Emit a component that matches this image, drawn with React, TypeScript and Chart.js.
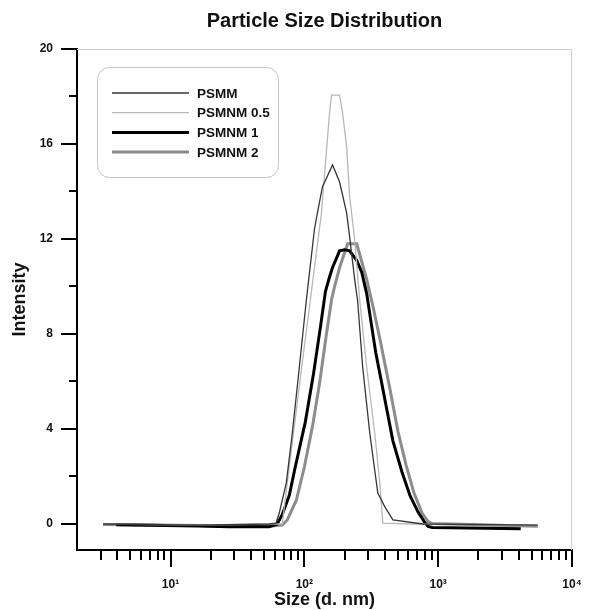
import React, { useEffect, useRef } from 'react';
import { Chart, registerables } from 'chart.js';

Chart.register(...registerables);

// ---------- data ----------
const chartTitle = 'Particle Size Distribution';
const xAxisTitle = 'Size (d. nm)';
const yAxisTitle = 'Intensity';
const seriesNames = ['PSMM', 'PSMNM 0.5', 'PSMNM 1', 'PSMNM 2'];

const xMajorTicks = [10, 100, 1000, 10000];
const xMajorLabels = ['10¹', '10²', '10³', '10⁴'];
const xMinorMultipliers = [2, 3, 4, 5, 6, 7, 8, 9];
const yMajorTicks = [0, 4, 8, 12, 16, 20];
const yMinorTicks = [2, 6, 10, 14, 18];

const psmmSize = [3.13, 16.2, 54.6, 61.5, 64.9, 73.3, 81.3, 91.7, 103.5, 118.9, 125.2, 136.6, 162.4, 183.4, 206.9, 217.9, 237.6, 250, 272.9, 308.1, 353.8, 399.6, 458.9, 771, 5546];
const psmmIntensity = [0, -0.05, 0, 0.04, 0.46, 1.73, 3.83, 6.6, 9.43, 12.4, 13.1, 14.2, 15.12, 14.4, 13.1, 12.1, 10.3, 9.4, 6.6, 3.83, 1.3, 0.72, 0.17, 0.0, -0.05];

const psmnm05Size = [3.13, 16.2, 54.6, 68.4, 74.5, 83, 95, 110.9, 134.2, 143.8, 154.2, 159.6, 183.4, 193.1, 206.9, 217.9, 237.6, 259.2, 292.3, 335.6, 366.6, 385.7, 648.7, 5546];
const psmnm05Intensity = [0, -0.05, 0, 0, 1.73, 3.83, 6.5, 9.43, 13.1, 15.2, 17.3, 18.06, 18.06, 17.3, 15.9, 13.8, 12.0, 9.43, 6.6, 3.83, 1.7, 0.04, 0, -0.05];

const psmnm1Size = [3.93, 16.2, 27.3, 54.6, 62.7, 68.4, 77.1, 85.5, 101.7, 116.9, 131.9, 143.8, 154.2, 162.4, 183.4, 200, 217.9, 246, 268.3, 292.3, 319, 342, 379.5, 413.8, 458.9, 535.6, 615.1, 707.5, 785.8, 841.6, 902.2, 4140];
const psmnm1Intensity = [-0.03, -0.08, -0.12, -0.12, 0, 0.4, 1.2, 2.4, 4.3, 6.3, 8.3, 9.8, 10.4, 10.8, 11.5, 11.55, 11.5, 11.1, 10.6, 9.7, 8.3, 7.2, 5.9, 4.8, 3.5, 2.2, 1.2, 0.5, 0.1, -0.1, -0.15, -0.2];

const psmnm2Size = [3.13, 16.2, 27.3, 54.6, 68.4, 74.5, 87.1, 100, 114.9, 129.7, 146.2, 159.6, 168.2, 183.4, 210.6, 246, 263.6, 292.3, 324.6, 366.6, 435.5, 500.4, 574.4, 659.8, 759.3, 841.6, 902.2, 5546];
const psmnm2Intensity = [-0.02, -0.06, -0.1, -0.1, -0.04, 0.17, 1.0, 2.4, 4.1, 5.9, 8.0, 9.43, 10.0, 10.8, 11.8, 11.8, 11.2, 10.3, 9.2, 7.8, 5.7, 3.9, 2.5, 1.3, 0.45, 0.1, 0.02, -0.1];

const seriesColors = ['#363636', '#b8b8b8', '#000000', '#8c8c8c'];
const seriesWidths = [1.3, 1.3, 3, 3];

const FONT = "'Liberation Sans', Arial, Helvetica, sans-serif";

const pairs = (xs: number[], ys: number[]) => xs.map((x, i) => ({ x, y: ys[i] }));

// ---------- plugins ----------
const frameAndTicksPlugin = {
  id: 'frameAndTicks',
  beforeDatasetsDraw(chart: any) {
    const { ctx, chartArea: a } = chart;
    ctx.save();
    ctx.strokeStyle = '#cfcfcf';
    ctx.lineWidth = 1;
    ctx.beginPath();
    ctx.moveTo(a.left, a.top + 0.5);
    ctx.lineTo(a.right - 0.5, a.top + 0.5);
    ctx.lineTo(a.right - 0.5, a.bottom);
    ctx.stroke();
    ctx.restore();
  },
  afterDraw(chart: any) {
    const { ctx, chartArea: a, scales } = chart;
    const xs = scales.x;
    const ys = scales.y;
    ctx.save();
    ctx.strokeStyle = '#000';
    ctx.lineWidth = 2;
    ctx.beginPath();
    for (let d = 1; d <= 1000; d *= 10) {
      for (const m of xMinorMultipliers) {
        const v = d * m;
        if (v <= xs.min || v > xs.max) continue;
        const px = Math.round(xs.getPixelForValue(v));
        ctx.moveTo(px, a.bottom);
        ctx.lineTo(px, a.bottom + 10);
      }
    }
    for (const v of xMajorTicks) {
      const px = Math.round(xs.getPixelForValue(v));
      ctx.moveTo(px, a.bottom);
      ctx.lineTo(px, a.bottom + 17);
    }
    for (const v of yMajorTicks) {
      const py = Math.round(ys.getPixelForValue(v));
      ctx.moveTo(a.left - 16, py);
      ctx.lineTo(a.left, py);
    }
    for (const v of yMinorTicks) {
      const py = Math.round(ys.getPixelForValue(v));
      ctx.moveTo(a.left - 8, py);
      ctx.lineTo(a.left, py);
    }
    ctx.stroke();

    // legend
    const bx = a.left + 20;
    const by = a.top + 18;
    const bw = 181;
    const bh = 110;
    ctx.lineWidth = 1;
    ctx.strokeStyle = '#c4c4c4';
    ctx.beginPath();
    ctx.roundRect(bx + 0.5, by + 0.5, bw, bh, 12);
    ctx.stroke();
    ctx.font = `bold 13.5px ${FONT}`;
    ctx.textBaseline = 'middle';
    ctx.textAlign = 'left';
    chart.data.datasets.forEach((ds: any, i: number) => {
      const ry = by + 26 + i * 19.7;
      ctx.strokeStyle = ds.borderColor;
      ctx.lineWidth = ds.borderWidth;
      ctx.beginPath();
      ctx.moveTo(bx + 15, ry);
      ctx.lineTo(bx + 92, ry);
      ctx.stroke();
      ctx.fillStyle = '#111';
      ctx.fillText(ds.label, bx + 100, ry + 1);
    });
    ctx.restore();
  },
};

export default function App() {
  const canvasRef = useRef<HTMLCanvasElement | null>(null);

  useEffect(() => {
    if (!canvasRef.current) return;
    const sizes = [psmmSize, psmnm05Size, psmnm1Size, psmnm2Size];
    const vals = [psmmIntensity, psmnm05Intensity, psmnm1Intensity, psmnm2Intensity];
    const chart = new Chart(canvasRef.current, {
      type: 'line',
      data: {
        datasets: seriesNames.map((name, i) => ({
          label: name,
          data: pairs(sizes[i], vals[i]),
          borderColor: seriesColors[i],
          borderWidth: seriesWidths[i],
          pointRadius: 0,
          tension: 0,
          fill: false,
        })),
      },
      options: {
        responsive: false,
        animation: false,
        devicePixelRatio: 1,
        layout: { padding: { left: 0, right: 17, top: 0, bottom: 0 } },
        plugins: {
          legend: { display: false },
          tooltip: { enabled: false },
          title: {
            display: true,
            text: chartTitle,
            fullSize: false,
            color: '#111',
            font: { family: FONT, size: 20, weight: 'bold' },
            padding: { top: 9, bottom: 16 },
          },
        },
        scales: {
          x: {
            type: 'logarithmic',
            min: 2,
            max: 10000,
            grid: { display: false, drawTicks: false },
            border: { display: true, color: '#000', width: 2 },
            afterBuildTicks: (scale: any) => {
              scale.ticks = xMajorTicks.map((v) => ({ value: v }));
            },
            afterFit: (scale: any) => {
              scale.height = 60;
              scale.paddingLeft = 0;
              scale.paddingRight = 0;
            },
            ticks: {
              autoSkip: false,
              maxRotation: 0,
              padding: 27,
              color: '#111',
              font: { family: FONT, size: 12, weight: 'bold' },
              callback: (v: any) => {
                const i = xMajorTicks.indexOf(Number(v));
                return i >= 0 ? xMajorLabels[i] : '';
              },
            },
            title: {
              display: true,
              text: xAxisTitle,
              color: '#111',
              font: { family: FONT, size: 18, weight: 'bold' },
              padding: { top: 0, bottom: -1 },
            },
          },
          y: {
            type: 'linear',
            min: -1.095,
            max: 20,
            grid: { display: false, drawTicks: false },
            border: { display: true, color: '#000', width: 2 },
            afterBuildTicks: (scale: any) => {
              scale.ticks = yMajorTicks.map((v) => ({ value: v }));
            },
            afterFit: (scale: any) => {
              scale.width = 77;
              scale.paddingTop = 0;
              scale.paddingBottom = 0;
            },
            ticks: {
              padding: 24,
              color: '#111',
              font: { family: FONT, size: 12, weight: 'bold' },
            },
            title: {
              display: true,
              text: yAxisTitle,
              color: '#111',
              font: { family: FONT, size: 18, weight: 'bold' },
              padding: { top: 9, bottom: 0 },
            },
          },
        },
      },
      plugins: [frameAndTicksPlugin],
    } as any);
    return () => chart.destroy();
  }, []);

  return (
    <div style={{ position: 'absolute', left: 0, top: 0, width: 589, height: 610, background: '#fff' }}>
      <canvas ref={canvasRef} width={589} height={610} style={{ display: 'block' }} />
    </div>
  );
}
